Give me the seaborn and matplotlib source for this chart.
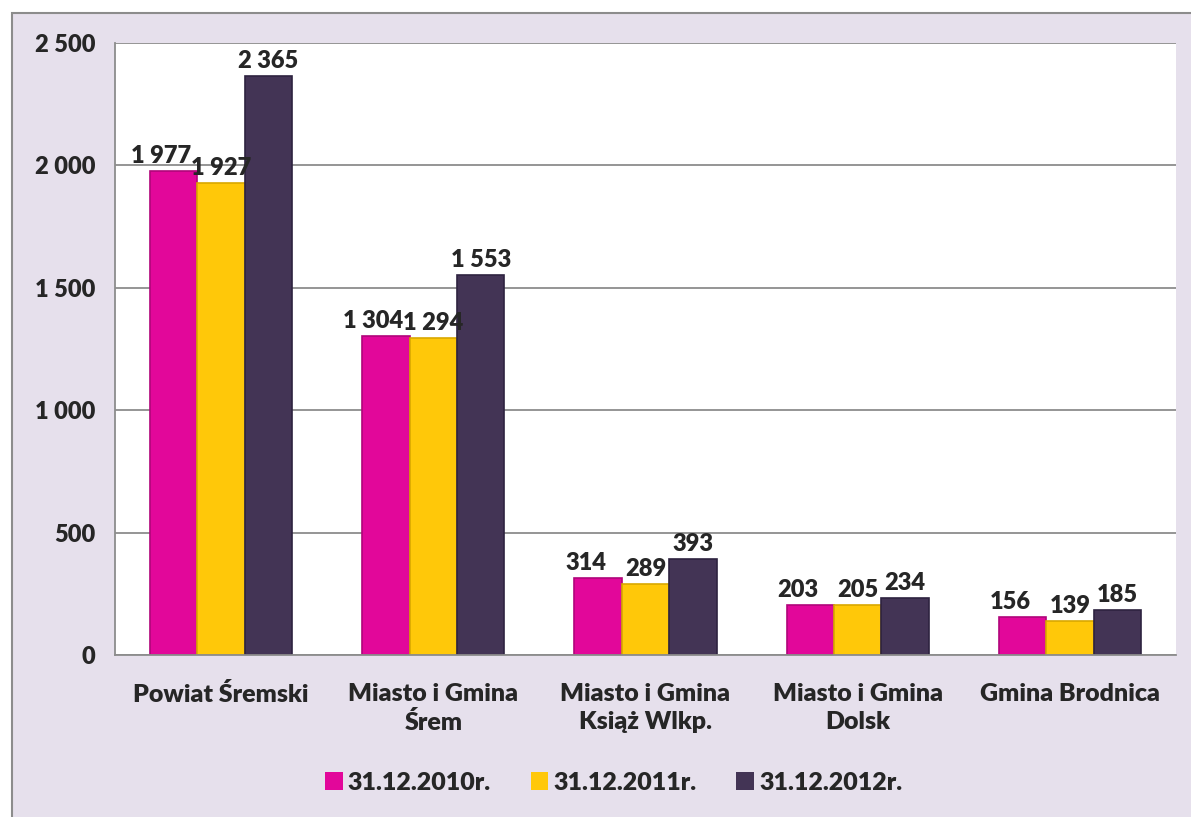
import pandas as pd
import matplotlib.pyplot as plt
import seaborn as sns
from matplotlib.patches import Rectangle
from matplotlib.ticker import FuncFormatter

# data
gminy = ["Powiat Śremski", "Miasto i Gmina\nŚrem", "Miasto i Gmina\nKsiąż Wlkp.",
         "Miasto i Gmina\nDolsk", "Gmina Brodnica"]
lata = ["31.12.2010r.", "31.12.2011r.", "31.12.2012r."]
v2010 = [1977, 1304, 314, 203, 156]
v2011 = [1927, 1294, 289, 205, 139]
v2012 = [2365, 1553, 393, 234, 185]
kolory = ["#E2079A", "#FFC809", "#433455"]

df = pd.DataFrame({
    "gmina": gminy * 3,
    "rok": [lata[0]] * 5 + [lata[1]] * 5 + [lata[2]] * 5,
    "liczba": v2010 + v2011 + v2012,
})

sns.set_style("white")
plt.rcParams['font.family'] = ['Lato', 'DejaVu Sans']
plt.rcParams['font.weight'] = 'heavy'
W = "heavy"
FS = 18

fig = plt.figure(figsize=(11.91, 8.17), dpi=100, facecolor="white")
# lavender chart frame
fig.patches.append(Rectangle((12 / 1191, -0.02), 1.0, (817 - 13) / 817 + 0.02,
                             transform=fig.transFigure, facecolor="#E6E0EC",
                             edgecolor="#8C8C8C", linewidth=1.5, zorder=-10))
ax = fig.add_axes([115 / 1191, (817 - 655) / 817, (1176 - 115) / 1191, (655 - 43) / 817])
ax.set_facecolor("white")

sns.barplot(data=df, x="gmina", y="liczba", hue="rok", palette=kolory,
            width=0.67, ax=ax, saturation=1, edgecolor="none")

# slightly darker rim to hint at the bevelled bars
for cont, c in zip(ax.containers, ["#B0057A", "#D9A800", "#2E2340"]):
    for b in cont:
        b.set_edgecolor(c)
        b.set_linewidth(1.2)

fmt = lambda v: f"{int(v):,}".replace(",", " ")
for k, cont in enumerate(ax.containers):
    anns = ax.bar_label(cont, labels=[fmt(b.get_height()) for b in cont],
                        fontsize=17, fontweight=W, padding=3)
    if k == 0:
        # first series' labels sit a bit to the left, as in the original
        for a in anns:
            a.xyann = (-9, a.xyann[1])

ax.set_ylim(0, 2500)
ax.set_yticks(range(0, 2501, 500))
ax.yaxis.set_major_formatter(FuncFormatter(lambda v, p: fmt(v)))
ax.grid(axis="y", color="#8C8C8C", linewidth=1.3)
ax.set_axisbelow(True)
ax.set_xlim(-0.5, 4.5)

for s in ["top", "right"]:
    ax.spines[s].set_visible(False)
for s in ["left", "bottom"]:
    ax.spines[s].set_color("#8C8C8C")
    ax.spines[s].set_linewidth(1.3)

ax.tick_params(axis="y", length=9, color="#8C8C8C", width=1.3, labelsize=17, pad=5, direction="out")
ax.set_xticks([i - 0.5 for i in range(6)], minor=True)
ax.tick_params(axis="x", which="minor", length=9, color="#8C8C8C", width=1.3, direction="out")
ax.tick_params(axis="x", which="major", length=0, labelsize=FS, pad=20)
for t in ax.get_xticklabels():
    t.set_linespacing(1.35)
for t in ax.get_xticklabels() + ax.get_yticklabels():
    t.set_fontweight(W)
ax.set_xlabel("")
ax.set_ylabel("")

ax.legend(loc="center", bbox_to_anchor=(0.47, -0.209), bbox_transform=ax.transAxes,
          ncol=3, frameon=False, handlelength=0.7, handleheight=0.7,
          handletextpad=0.2, columnspacing=1.6, prop={"weight": W, "size": FS})

fig.savefig("out.png", dpi=100, facecolor=fig.get_facecolor())
